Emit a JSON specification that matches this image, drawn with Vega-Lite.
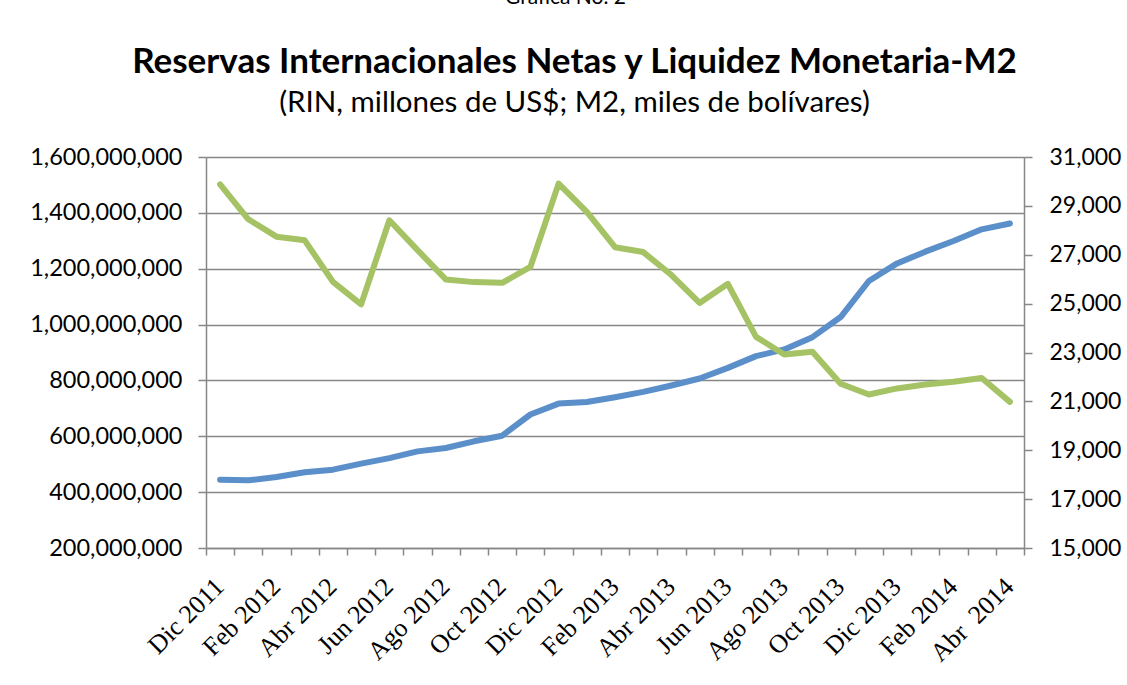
{
  "$schema": "https://vega.github.io/schema/vega-lite/v6.json",
  "width": 818,
  "height": 391,
  "autosize": {"type": "none"},
  "padding": {"left": 206, "top": 157, "right": 103, "bottom": 137},
  "background": "white",
  "config": {
    "view": {"stroke": null},
    "axis": {
      "domainColor": "#878787",
      "domainWidth": 1.5,
      "tickColor": "#878787",
      "tickWidth": 1.5,
      "gridColor": "#878787",
      "gridWidth": 1.5,
      "labelColor": "#000000",
      "titleColor": "#000000"
    }
  },
  "data": {
    "values": [
      {"mes": "Dic 2011", "m2": 444700000, "rin": 29880},
      {"mes": "Ene 2012", "m2": 442300000, "rin": 28450},
      {"mes": "Feb 2012", "m2": 454300000, "rin": 27740},
      {"mes": "Mar 2012", "m2": 471000000, "rin": 27590},
      {"mes": "Abr 2012", "m2": 480500000, "rin": 25890},
      {"mes": "May 2012", "m2": 502000000, "rin": 24970},
      {"mes": "Jun 2012", "m2": 522000000, "rin": 28410},
      {"mes": "Jul 2012", "m2": 546000000, "rin": 27190},
      {"mes": "Ago 2012", "m2": 558000000, "rin": 25990},
      {"mes": "Sep 2012", "m2": 582000000, "rin": 25880},
      {"mes": "Oct 2012", "m2": 602000000, "rin": 25850},
      {"mes": "Nov 2012", "m2": 678000000, "rin": 26500},
      {"mes": "Dic 2012", "m2": 717000000, "rin": 29910},
      {"mes": "Ene 2013", "m2": 723000000, "rin": 28750},
      {"mes": "Feb 2013", "m2": 740000000, "rin": 27310},
      {"mes": "Mar 2013", "m2": 759000000, "rin": 27110},
      {"mes": "Abr 2013", "m2": 782000000, "rin": 26170},
      {"mes": "May 2013", "m2": 807000000, "rin": 25030},
      {"mes": "Jun 2013", "m2": 845000000, "rin": 25810},
      {"mes": "Jul 2013", "m2": 887000000, "rin": 23640},
      {"mes": "Ago 2013", "m2": 911000000, "rin": 22920},
      {"mes": "Sep 2013", "m2": 955000000, "rin": 23030},
      {"mes": "Oct 2013", "m2": 1027000000, "rin": 21720},
      {"mes": "Nov 2013", "m2": 1156000000, "rin": 21280},
      {"mes": "Dic 2013", "m2": 1219000000, "rin": 21530},
      {"mes": "Ene 2014", "m2": 1261000000, "rin": 21690},
      {"mes": "Feb 2014", "m2": 1299000000, "rin": 21800},
      {"mes": "Mar 2014", "m2": 1341000000, "rin": 21960},
      {"mes": "Abr \u00a02014", "m2": 1362000000, "rin": 20980}
    ]
  },
  "encoding": {
    "x": {
      "field": "mes",
      "type": "ordinal",
      "sort": null,
      "scale": {"type": "band", "paddingInner": 0, "paddingOuter": 0}
    }
  },
  "layer": [
    {
      "mark": {"type": "line", "color": "#5b8fca", "strokeWidth": 6, "strokeCap": "round", "strokeJoin": "round"},
      "encoding": {
        "x": {
          "field": "mes",
          "type": "ordinal",
          "sort": null,
          "axis": {
            "orient": "bottom",
            "title": "(RIN, millones de US$; M2, miles de bolívares)",
            "titleFont": "Lato",
            "titleFontSize": 29.5,
            "titleFontWeight": "normal",
            "titleX": 368,
            "titleY": -437,
            "titleAlign": "center",
            "titleBaseline": "alphabetic",
            "tickBand": "extent",
            "tickSize": 7,
            "labelAngle": -45,
            "labelFont": "Liberation Serif",
            "labelFontSize": 26,
            "labelPadding": 18,
            "labelOffset": -10,
            "labelOverlap": false,
            "labelExpr": "indexof(['Ene','Mar','May','Jul','Sep','Nov'], split(datum.value, ' ')[0]) >= 0 ? '' : datum.value"
          }
        },
        "y": {
          "field": "m2",
          "type": "quantitative",
          "scale": {"domain": [200000000, 1600000000], "nice": false, "zero": false},
          "axis": {
            "orient": "left",
            "title": "Gráfica No. 2",
            "titleFont": "Lato",
            "titleFontSize": 21,
            "titleFontWeight": "normal",
            "titleAngle": 0,
            "titleX": 359,
            "titleY": -154,
            "titleAlign": "center",
            "titleBaseline": "alphabetic",
            "values": [200000000, 400000000, 600000000, 800000000, 1000000000, 1200000000, 1400000000, 1600000000],
            "format": ",d",
            "grid": true,
            "tickSize": 8,
            "labelPadding": 16,
            "labelFont": "Lato",
            "labelFontSize": 23.5
          }
        }
      }
    },
    {
      "mark": {"type": "line", "color": "#a5c364", "strokeWidth": 6, "strokeCap": "round", "strokeJoin": "round"},
      "encoding": {
        "x": {
          "field": "mes",
          "type": "ordinal",
          "sort": null,
          "axis": {
            "orient": "top",
            "title": "Reservas Internacionales Netas y Liquidez Monetaria-M2",
            "titleFont": "Lato",
            "titleFontSize": 35,
            "titleFontWeight": "bold",
            "titleX": 368,
            "titleY": -85,
            "titleAlign": "center",
            "titleBaseline": "alphabetic",
            "labels": false,
            "ticks": false,
            "domain": false,
            "grid": false
          }
        },
        "y": {
          "field": "rin",
          "type": "quantitative",
          "scale": {"domain": [15000, 31000], "nice": false, "zero": false},
          "axis": {
            "title": null,
            "orient": "right",
            "values": [15000, 17000, 19000, 21000, 23000, 25000, 27000, 29000, 31000],
            "format": ",d",
            "grid": false,
            "tickSize": 8,
            "labelPadding": 17,
            "labelFont": "Lato",
            "labelFontSize": 23
          }
        }
      }
    }
  ],
  "resolve": {"scale": {"y": "independent"}, "axis": {"x": "independent"}}
}
